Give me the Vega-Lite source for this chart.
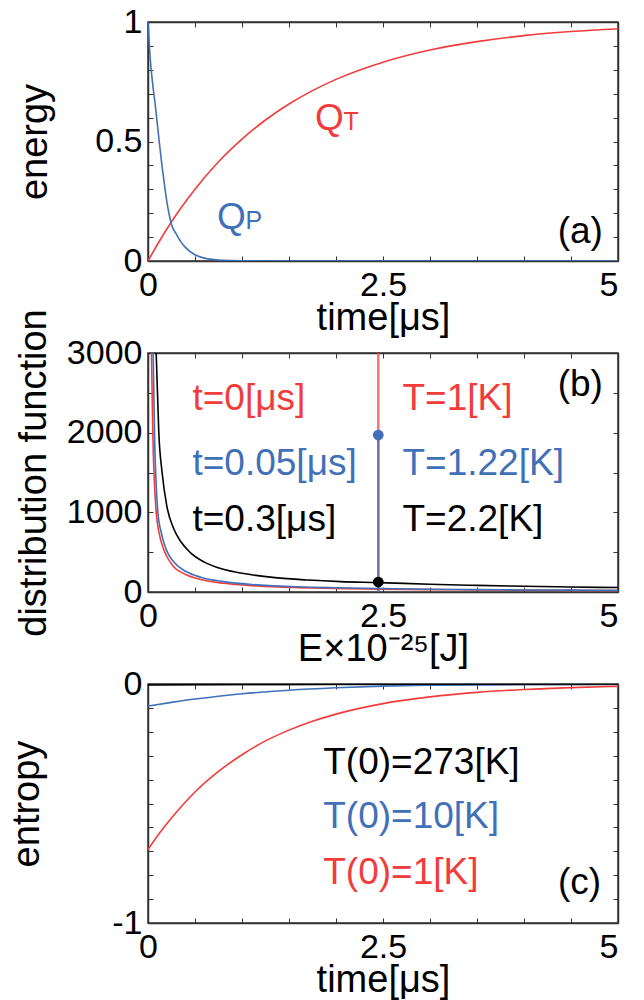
{
  "$schema": "https://vega.github.io/schema/vega-lite/v6.json",
  "padding": {"top": 4, "left": 8, "right": 5, "bottom": 5},
  "background": "white",
  "bounds": "flush",
  "spacing": 92,
  "config": {
    "font": "Liberation Sans",
    "view": {"stroke": "#333333", "strokeWidth": 1.5},
    "axis": {
      "grid": false, "domainColor": "#333333", "domainWidth": 1.5,
      "tickColor": "#333333", "tickSize": -5, "tickWidth": 1,
      "labelFontSize": 34, "titleFontSize": 38, "titleFontWeight": "normal",
      "labelColor": "#000000", "titleColor": "#000000", "labelOverlap": false
    },
    "axisX": {"labelPadding": 12, "titlePadding": -3},
    "axisY": {"labelPadding": 11},
    "text": {"fontSize": 37}
  },
  "resolve": {"scale": {"color": "shared"}},
  "datasets": {
    "energy": [
      {"t": 0, "v": 0, "s": "QT"}, {"t": 0.1, "v": 0.069, "s": "QT"}, {"t": 0.25, "v": 0.164, "s": "QT"},
      {"t": 0.5, "v": 0.3, "s": "QT"}, {"t": 0.75, "v": 0.415, "s": "QT"}, {"t": 1, "v": 0.51, "s": "QT"},
      {"t": 1.25, "v": 0.59, "s": "QT"}, {"t": 1.5, "v": 0.657, "s": "QT"}, {"t": 1.75, "v": 0.713, "s": "QT"},
      {"t": 2, "v": 0.76, "s": "QT"}, {"t": 2.5, "v": 0.832, "s": "QT"}, {"t": 3, "v": 0.883, "s": "QT"},
      {"t": 3.5, "v": 0.918, "s": "QT"}, {"t": 4, "v": 0.943, "s": "QT"}, {"t": 4.5, "v": 0.96, "s": "QT"},
      {"t": 5, "v": 0.972, "s": "QT"},
      {"t": 0, "v": 1, "s": "QP"}, {"t": 0.025, "v": 0.84, "s": "QP"}, {"t": 0.05, "v": 0.74, "s": "QP"},
      {"t": 0.075, "v": 0.66, "s": "QP"}, {"t": 0.1, "v": 0.57, "s": "QP"}, {"t": 0.125, "v": 0.48, "s": "QP"},
      {"t": 0.15, "v": 0.395, "s": "QP"}, {"t": 0.175, "v": 0.32, "s": "QP"}, {"t": 0.2, "v": 0.25, "s": "QP"},
      {"t": 0.225, "v": 0.195, "s": "QP"}, {"t": 0.25, "v": 0.153, "s": "QP"}, {"t": 0.3, "v": 0.113, "s": "QP"},
      {"t": 0.35, "v": 0.08, "s": "QP"}, {"t": 0.4, "v": 0.056, "s": "QP"}, {"t": 0.5, "v": 0.026, "s": "QP"},
      {"t": 0.6, "v": 0.012, "s": "QP"}, {"t": 0.7, "v": 0.006, "s": "QP"}, {"t": 0.8, "v": 0.0027, "s": "QP"},
      {"t": 1, "v": 0.0006, "s": "QP"}, {"t": 1.5, "v": 0, "s": "QP"}, {"t": 2.5, "v": 0, "s": "QP"},
      {"t": 5, "v": 0, "s": "QP"}
    ],
    "energyText": [
      {"x": 1.777, "y": 0.55, "label": "Q", "s": "QT"},
      {"x": 0.734, "y": 0.135, "label": "Q", "s": "QP"}
    ],
    "energySub": [
      {"x": 2.08, "y": 0.55, "label": "T", "s": "QT"},
      {"x": 1.037, "y": 0.132, "label": "P", "s": "QP"}
    ],
    "energyTag": [{"x": 4.84, "y": 0.123, "label": "(a)", "s": "note"}],
    "dist": [
      {"E": 0.035, "f": 3150, "s": "t0"}, {"E": 0.037, "f": 3000, "s": "t0"}, {"E": 0.045, "f": 2400, "s": "t0"},
      {"E": 0.051, "f": 2000, "s": "t0"}, {"E": 0.065, "f": 1450, "s": "t0"}, {"E": 0.087, "f": 1000, "s": "t0"},
      {"E": 0.12, "f": 730, "s": "t0"}, {"E": 0.168, "f": 530, "s": "t0"}, {"E": 0.26, "f": 335, "s": "t0"},
      {"E": 0.4, "f": 220, "s": "t0"}, {"E": 0.56, "f": 158, "s": "t0"}, {"E": 0.8, "f": 110, "s": "t0"},
      {"E": 1.16, "f": 76, "s": "t0"}, {"E": 1.6, "f": 55, "s": "t0"}, {"E": 2, "f": 44, "s": "t0"},
      {"E": 2.45, "f": 36, "s": "t0"}, {"E": 3, "f": 30, "s": "t0"}, {"E": 3.5, "f": 26, "s": "t0"},
      {"E": 4, "f": 23, "s": "t0"}, {"E": 4.5, "f": 20, "s": "t0"}, {"E": 5, "f": 18, "s": "t0"},
      {"E": 0.05, "f": 3300, "s": "t005"}, {"E": 0.055, "f": 3000, "s": "t005"}, {"E": 0.062, "f": 2500, "s": "t005"},
      {"E": 0.069, "f": 2000, "s": "t005"}, {"E": 0.085, "f": 1400, "s": "t005"}, {"E": 0.105, "f": 1000, "s": "t005"},
      {"E": 0.14, "f": 750, "s": "t005"}, {"E": 0.193, "f": 535, "s": "t005"}, {"E": 0.28, "f": 370, "s": "t005"},
      {"E": 0.4, "f": 260, "s": "t005"}, {"E": 0.56, "f": 185, "s": "t005"}, {"E": 0.8, "f": 130, "s": "t005"},
      {"E": 1.16, "f": 90, "s": "t005"}, {"E": 1.6, "f": 65, "s": "t005"}, {"E": 2, "f": 53, "s": "t005"},
      {"E": 2.45, "f": 43, "s": "t005"}, {"E": 3, "f": 35, "s": "t005"}, {"E": 3.5, "f": 30, "s": "t005"},
      {"E": 4, "f": 26, "s": "t005"}, {"E": 4.5, "f": 23, "s": "t005"}, {"E": 5, "f": 21, "s": "t005"},
      {"E": 0.08, "f": 3200, "s": "t03"}, {"E": 0.09, "f": 2900, "s": "t03"}, {"E": 0.115, "f": 2000, "s": "t03"},
      {"E": 0.15, "f": 1500, "s": "t03"}, {"E": 0.2, "f": 1080, "s": "t03"}, {"E": 0.275, "f": 790, "s": "t03"},
      {"E": 0.35, "f": 630, "s": "t03"}, {"E": 0.45, "f": 495, "s": "t03"}, {"E": 0.6, "f": 375, "s": "t03"},
      {"E": 0.8, "f": 285, "s": "t03"}, {"E": 1, "f": 235, "s": "t03"}, {"E": 1.35, "f": 180, "s": "t03"},
      {"E": 1.7, "f": 150, "s": "t03"}, {"E": 2.05, "f": 130, "s": "t03"}, {"E": 2.45, "f": 118, "s": "t03"},
      {"E": 3, "f": 97, "s": "t03"}, {"E": 3.5, "f": 83, "s": "t03"}, {"E": 4, "f": 72, "s": "t03"},
      {"E": 4.5, "f": 63, "s": "t03"}, {"E": 5, "f": 56, "s": "t03"}
    ],
    "distRule": [
      {"E": 2.45, "lo": 0, "hi": 3000, "s": "t0"},
      {"E": 2.45, "lo": 0, "hi": 1970, "s": "t005"}
    ],
    "distDots": [
      {"E": 2.45, "f": 1970, "s": "t005"},
      {"E": 2.45, "f": 125, "s": "t03"}
    ],
    "distTextLeft": [
      {"x": 0.473, "y": 2418, "label": "t=0[μs]", "s": "t0"},
      {"x": 0.473, "y": 1601, "label": "t=0.05[μs]", "s": "t005"},
      {"x": 0.473, "y": 909, "label": "t=0.3[μs]", "s": "t03"},
      {"x": 2.707, "y": 2418, "label": "T=1[K]", "s": "t0"},
      {"x": 2.707, "y": 1601, "label": "T=1.22[K]", "s": "t005"},
      {"x": 2.707, "y": 909, "label": "T=2.2[K]", "s": "t03"}
    ],
    "distTag": [{"x": 4.84, "y": 2594, "label": "(b)", "s": "t03"}],
    "entropy": [
      {"t": 0, "S": -0.693, "s": "T1"}, {"t": 0.1, "S": -0.636, "s": "T1"}, {"t": 0.25, "S": -0.561, "s": "T1"},
      {"t": 0.5, "S": -0.452, "s": "T1"}, {"t": 0.75, "S": -0.366, "s": "T1"}, {"t": 1, "S": -0.296, "s": "T1"},
      {"t": 1.25, "S": -0.238, "s": "T1"}, {"t": 1.5, "S": -0.193, "s": "T1"}, {"t": 1.75, "S": -0.156, "s": "T1"},
      {"t": 2, "S": -0.126, "s": "T1"}, {"t": 2.5, "S": -0.082, "s": "T1"}, {"t": 3, "S": -0.054, "s": "T1"},
      {"t": 3.5, "S": -0.035, "s": "T1"}, {"t": 4, "S": -0.023, "s": "T1"}, {"t": 4.5, "S": -0.015, "s": "T1"},
      {"t": 5, "S": -0.01, "s": "T1"},
      {"t": 0, "S": -0.092, "s": "T10"}, {"t": 0.25, "S": -0.077, "s": "T10"}, {"t": 0.5, "S": -0.063, "s": "T10"},
      {"t": 0.75, "S": -0.051, "s": "T10"}, {"t": 1, "S": -0.041, "s": "T10"}, {"t": 1.5, "S": -0.026, "s": "T10"},
      {"t": 2, "S": -0.016, "s": "T10"}, {"t": 2.5, "S": -0.009, "s": "T10"}, {"t": 3, "S": -0.005, "s": "T10"},
      {"t": 4, "S": -0.002, "s": "T10"}, {"t": 5, "S": -0.001, "s": "T10"},
      {"t": 0, "S": -0.004, "s": "T273"}, {"t": 1, "S": -0.002, "s": "T273"}, {"t": 2, "S": -0.001, "s": "T273"},
      {"t": 5, "S": 0, "s": "T273"}
    ],
    "entropyText": [
      {"x": 1.864, "y": -0.332, "label": "T(0)=273[K]", "s": "T273"},
      {"x": 1.864, "y": -0.555, "label": "T(0)=10[K]", "s": "T10"},
      {"x": 1.864, "y": -0.79, "label": "T(0)=1[K]", "s": "T1"}
    ],
    "entropyTag": [{"x": 4.82, "y": -0.832, "label": "(c)", "s": "T273"}]
  },
  "vconcat": [
    {
      "width": 470, "height": 239,
      "layer": [
        {
          "data": {"name": "energy"},
          "mark": {"type": "line", "interpolate": "monotone", "strokeWidth": 1.6, "clip": true},
          "encoding": {
            "x": {"field": "t", "type": "quantitative", "scale": {"domain": [0, 5], "nice": false},
              "axis": {"title": "time[μs]", "values": [0, 0.5, 1, 1.5, 2, 2.5, 3, 3.5, 4, 4.5, 5],
                "labelExpr": "datum.value == 0 ? '0' : datum.value == 2.5 ? '2.5' : datum.value == 5 ? '5' : ''",
                "labelFlush": false,
                "labelAlign": {"condition": {"test": "datum.value == 5", "value": "right"}, "value": "center"}}},
            "y": {"field": "v", "type": "quantitative", "scale": {"domain": [0, 1], "nice": false},
              "axis": {"title": "energy", "titlePadding": 40, "values": [0, 0.1, 0.2, 0.3, 0.4, 0.5, 0.6, 0.7, 0.8, 0.9, 1],
                "labelExpr": "datum.value == 0 ? '0' : datum.value == 0.5 ? '0.5' : datum.value == 1 ? '1' : ''"}},
            "color": {"field": "s", "type": "nominal", "scale": {"domain": ["QT", "QP", "note", "t0", "t005", "t03", "T273", "T10", "T1"], "range": ["#f23c3c", "#3f70b8", "#000000", "#f23c3c", "#3f70b8", "#000000", "#000000", "#3f70b8", "#f23c3c"]}, "legend": null}
          }
        },
        {
          "data": {"name": "energy"},
          "mark": {"type": "line", "strokeOpacity": 0},
          "encoding": {
            "x": {"field": "t", "type": "quantitative", "axis": {"orient": "top", "labels": false, "title": null, "values": [0, 0.5, 1, 1.5, 2, 2.5, 3, 3.5, 4, 4.5, 5]}},
            "y": {"field": "v", "type": "quantitative", "axis": {"orient": "right", "labels": false, "title": null, "values": [0, 0.1, 0.2, 0.3, 0.4, 0.5, 0.6, 0.7, 0.8, 0.9, 1]}}
          }
        },
        {
          "data": {"name": "energyText"},
          "mark": {"type": "text", "align": "left", "baseline": "alphabetic"},
          "encoding": {
            "x": {"field": "x", "type": "quantitative", "axis": null},
            "y": {"field": "y", "type": "quantitative", "axis": null},
            "text": {"field": "label"},
            "color": {"field": "s", "type": "nominal", "legend": null}
          }
        },
        {
          "data": {"name": "energySub"},
          "mark": {"type": "text", "align": "left", "baseline": "alphabetic", "fontSize": 25},
          "encoding": {
            "x": {"field": "x", "type": "quantitative", "axis": null},
            "y": {"field": "y", "type": "quantitative", "axis": null},
            "text": {"field": "label"},
            "color": {"field": "s", "type": "nominal", "legend": null}
          }
        },
        {
          "data": {"name": "energyTag"},
          "mark": {"type": "text", "align": "right", "baseline": "middle"},
          "encoding": {
            "x": {"field": "x", "type": "quantitative", "axis": null},
            "y": {"field": "y", "type": "quantitative", "axis": null},
            "text": {"field": "label"},
            "color": {"field": "s", "type": "nominal", "legend": null}
          }
        }
      ],
      "resolve": {"axis": {"x": "independent", "y": "independent"}}
    },
    {
      "width": 470, "height": 239,
      "layer": [
        {
          "data": {"name": "dist"},
          "mark": {"type": "line", "interpolate": "monotone", "strokeWidth": 1.6, "clip": true},
          "encoding": {
            "x": {"field": "E", "type": "quantitative", "scale": {"domain": [0, 5], "nice": false},
              "axis": {"title": "E×10⁻²⁵[J]", "values": [0, 0.5, 1, 1.5, 2, 2.5, 3, 3.5, 4, 4.5, 5],
                "labelExpr": "datum.value == 0 ? '0' : datum.value == 2.5 ? '2.5' : datum.value == 5 ? '5' : ''",
                "labelFlush": false,
                "labelAlign": {"condition": {"test": "datum.value == 5", "value": "right"}, "value": "center"}}},
            "y": {"field": "f", "type": "quantitative", "scale": {"domain": [0, 3000], "nice": false},
              "axis": {"title": "distribution function", "titlePadding": 13, "values": [0, 500, 1000, 1500, 2000, 2500, 3000],
                "labelExpr": "datum.value == 0 ? '0' : datum.value == 1000 ? '1000' : datum.value == 2000 ? '2000' : datum.value == 3000 ? '3000' : ''"}},
            "color": {"field": "s", "type": "nominal", "legend": null}
          }
        },
        {
          "data": {"name": "dist"},
          "mark": {"type": "line", "strokeOpacity": 0},
          "encoding": {
            "x": {"field": "E", "type": "quantitative", "axis": {"orient": "top", "labels": false, "title": null, "values": [0, 0.5, 1, 1.5, 2, 2.5, 3, 3.5, 4, 4.5, 5]}},
            "y": {"field": "f", "type": "quantitative", "axis": {"orient": "right", "labels": false, "title": null, "values": [0, 500, 1000, 1500, 2000, 2500, 3000]}}
          }
        },
        {
          "data": {"name": "distRule"},
          "mark": {"type": "rule", "strokeWidth": 2.5, "opacity": 0.7},
          "encoding": {
            "x": {"field": "E", "type": "quantitative", "axis": null},
            "y": {"field": "lo", "type": "quantitative", "axis": null},
            "y2": {"field": "hi"},
            "color": {"field": "s", "type": "nominal", "legend": null}
          }
        },
        {
          "data": {"name": "distDots"},
          "mark": {"type": "point", "filled": true, "size": 115, "opacity": 1},
          "encoding": {
            "x": {"field": "E", "type": "quantitative", "axis": null},
            "y": {"field": "f", "type": "quantitative", "axis": null},
            "color": {"field": "s", "type": "nominal", "legend": null}
          }
        },
        {
          "data": {"name": "distTextLeft"},
          "mark": {"type": "text", "align": "left", "baseline": "middle"},
          "encoding": {
            "x": {"field": "x", "type": "quantitative", "axis": null},
            "y": {"field": "y", "type": "quantitative", "axis": null},
            "text": {"field": "label"},
            "color": {"field": "s", "type": "nominal", "legend": null}
          }
        },
        {
          "data": {"name": "distTag"},
          "mark": {"type": "text", "align": "right", "baseline": "middle"},
          "encoding": {
            "x": {"field": "x", "type": "quantitative", "axis": null},
            "y": {"field": "y", "type": "quantitative", "axis": null},
            "text": {"field": "label"},
            "color": {"field": "s", "type": "nominal", "legend": null}
          }
        }
      ],
      "resolve": {"axis": {"x": "independent", "y": "independent"}}
    },
    {
      "width": 470, "height": 239,
      "layer": [
        {
          "data": {"name": "entropy"},
          "mark": {"type": "line", "interpolate": "monotone", "strokeWidth": 1.6, "clip": true},
          "encoding": {
            "x": {"field": "t", "type": "quantitative", "scale": {"domain": [0, 5], "nice": false},
              "axis": {"title": "time[μs]", "values": [0, 0.5, 1, 1.5, 2, 2.5, 3, 3.5, 4, 4.5, 5],
                "labelExpr": "datum.value == 0 ? '0' : datum.value == 2.5 ? '2.5' : datum.value == 5 ? '5' : ''",
                "labelFlush": false,
                "labelAlign": {"condition": {"test": "datum.value == 5", "value": "right"}, "value": "center"}}},
            "y": {"field": "S", "type": "quantitative", "scale": {"domain": [-1, 0], "nice": false},
              "axis": {"title": "entropy", "titlePadding": 65, "values": [-1, -0.9, -0.8, -0.7, -0.6, -0.5, -0.4, -0.3, -0.2, -0.1, 0],
                "labelExpr": "datum.value == -1 ? '-1' : datum.value == 0 ? '0' : ''"}},
            "color": {"field": "s", "type": "nominal", "legend": null}
          }
        },
        {
          "data": {"name": "entropy"},
          "mark": {"type": "line", "strokeOpacity": 0},
          "encoding": {
            "x": {"field": "t", "type": "quantitative", "axis": {"orient": "top", "labels": false, "title": null, "values": [0, 0.5, 1, 1.5, 2, 2.5, 3, 3.5, 4, 4.5, 5]}},
            "y": {"field": "S", "type": "quantitative", "axis": {"orient": "right", "labels": false, "title": null, "values": [-1, -0.9, -0.8, -0.7, -0.6, -0.5, -0.4, -0.3, -0.2, -0.1, 0]}}
          }
        },
        {
          "data": {"name": "entropyText"},
          "mark": {"type": "text", "align": "left", "baseline": "middle"},
          "encoding": {
            "x": {"field": "x", "type": "quantitative", "axis": null},
            "y": {"field": "y", "type": "quantitative", "axis": null},
            "text": {"field": "label"},
            "color": {"field": "s", "type": "nominal", "legend": null}
          }
        },
        {
          "data": {"name": "entropyTag"},
          "mark": {"type": "text", "align": "right", "baseline": "middle"},
          "encoding": {
            "x": {"field": "x", "type": "quantitative", "axis": null},
            "y": {"field": "y", "type": "quantitative", "axis": null},
            "text": {"field": "label"},
            "color": {"field": "s", "type": "nominal", "legend": null}
          }
        }
      ],
      "resolve": {"axis": {"x": "independent", "y": "independent"}}
    }
  ]
}
